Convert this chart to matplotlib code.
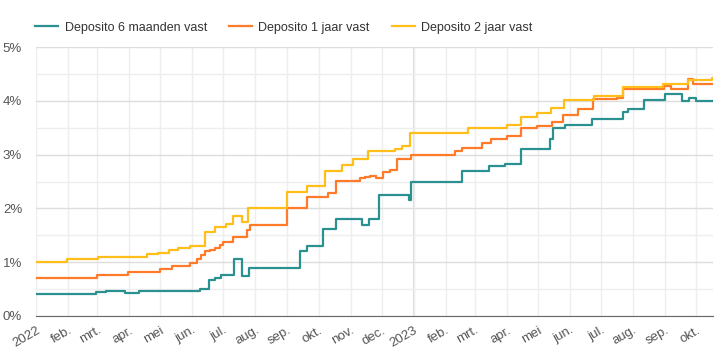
import matplotlib
matplotlib.use('Agg')
import matplotlib.pyplot as plt
import numpy as np
import pandas as pd

plt.rcParams['font.family'] = ['Liberation Sans', 'DejaVu Sans']

# Deposito 6 maanden vast
dates_6m = ['2022-01-01', '2022-02-28', '2022-03-10', '2022-03-28', '2022-04-11', '2022-06-08',
            '2022-06-17', '2022-06-23', '2022-06-29', '2022-07-11', '2022-07-19', '2022-07-26',
            '2022-09-13', '2022-09-20', '2022-10-05', '2022-10-18', '2022-11-12', '2022-11-19',
            '2022-11-28', '2022-12-27', '2022-12-29', '2023-02-17', '2023-03-15', '2023-03-30',
            '2023-04-15', '2023-05-13', '2023-05-16', '2023-05-27', '2023-06-22', '2023-07-22',
            '2023-07-27', '2023-08-12', '2023-09-01', '2023-09-17', '2023-09-24', '2023-10-01',
            '2023-10-17']
rate_6m = [0.41, 0.44, 0.47, 0.43, 0.47, 0.51,
           0.66, 0.70, 0.76, 1.06, 0.75, 0.90,
           1.21, 1.31, 1.61, 1.80, 1.70, 1.80,
           2.25, 2.16, 2.50, 2.70, 2.79, 2.83,
           3.11, 3.30, 3.50, 3.55, 3.66, 3.80,
           3.85, 4.01, 4.12, 4.00, 4.05, 4.00,
           4.00]

# Deposito 1 jaar vast
dates_1j = ['2022-01-01', '2022-03-01', '2022-03-31', '2022-05-01', '2022-05-12', '2022-05-30',
            '2022-06-06', '2022-06-09', '2022-06-13', '2022-06-18', '2022-06-23', '2022-06-28',
            '2022-07-01', '2022-07-10', '2022-07-24', '2022-07-27', '2022-09-01', '2022-09-20',
            '2022-10-10', '2022-10-18', '2022-11-10', '2022-11-15', '2022-11-20', '2022-11-26',
            '2022-12-02', '2022-12-09', '2022-12-16', '2022-12-29', '2023-02-10', '2023-02-17',
            '2023-03-08', '2023-03-17', '2023-04-01', '2023-04-15', '2023-04-30', '2023-05-15',
            '2023-05-25', '2023-06-09', '2023-06-23', '2023-07-16', '2023-07-22', '2023-08-31',
            '2023-09-07', '2023-09-23', '2023-09-28', '2023-10-17']
rate_1j = [0.70, 0.76, 0.82, 0.87, 0.92, 0.98,
           1.05, 1.13, 1.20, 1.23, 1.26, 1.32,
           1.38, 1.46, 1.60, 1.69, 2.01, 2.21,
           2.29, 2.51, 2.56, 2.58, 2.60, 2.57,
           2.68, 2.71, 2.92, 3.00, 3.07, 3.12,
           3.21, 3.30, 3.35, 3.50, 3.53, 3.61,
           3.74, 3.85, 4.03, 4.06, 4.22, 4.27,
           4.22, 4.40, 4.32, 4.32]

# Deposito 2 jaar vast
dates_2j = ['2022-01-01', '2022-01-31', '2022-03-02', '2022-04-18', '2022-04-29', '2022-05-10',
            '2022-05-18', '2022-05-30', '2022-06-13', '2022-06-23', '2022-07-04', '2022-07-10',
            '2022-07-19', '2022-07-25', '2022-09-01', '2022-09-20', '2022-10-07', '2022-10-24',
            '2022-11-03', '2022-11-18', '2022-12-14', '2022-12-21', '2022-12-28', '2023-02-22',
            '2023-04-01', '2023-04-15', '2023-04-30', '2023-05-14', '2023-05-26', '2023-06-24',
            '2023-07-22', '2023-08-30', '2023-09-23', '2023-10-16', '2023-10-17']
rate_2j = [1.01, 1.06, 1.10, 1.15, 1.18, 1.23,
           1.26, 1.30, 1.57, 1.65, 1.71, 1.86,
           1.75, 2.00, 2.31, 2.41, 2.70, 2.81,
           2.91, 3.07, 3.10, 3.16, 3.40, 3.50,
           3.56, 3.70, 3.77, 3.86, 4.01, 4.09,
           4.25, 4.31, 4.38, 4.43, 4.43]

tick_dates = pd.date_range('2022-01-01', '2023-10-01', freq='MS')
month_names = ['', 'feb.', 'mrt.', 'apr.', 'mei', 'jun.', 'jul.', 'aug.', 'sep.', 'okt.', 'nov.', 'dec.']
tick_labels = [str(d.year) if d.month == 1 else month_names[d.month - 1] for d in tick_dates]

series = [
    ('Deposito 6 maanden vast', dates_6m, rate_6m, '#2A9090'),
    ('Deposito 1 jaar vast', dates_1j, rate_1j, '#FF7B29'),
    ('Deposito 2 jaar vast', dates_2j, rate_2j, '#FFBE1A'),
]

fig = plt.figure(figsize=(7.2, 3.57), dpi=100)
ax = fig.add_axes([0.05, 0.115, 0.94, 0.753])

for name, d, r, c in series:
    ax.step(pd.to_datetime(d), r, where='post', color=c, lw=1.6, label=name, zorder=3)

ax.set_xlim(pd.Timestamp('2022-01-01'), pd.Timestamp('2023-10-17'))
ax.set_ylim(0, 5)

ax.set_yticks(np.arange(0, 6))
ax.set_yticklabels([f'{v}%' for v in range(6)])
ax.set_yticks(np.arange(0.5, 5, 1), minor=True)
ax.set_xticks(tick_dates)
ax.set_xticklabels(tick_labels, rotation=30, ha='right', rotation_mode='anchor')

ax.grid(True, which='major', axis='y', color='#DDDDDD', lw=1)
ax.grid(True, which='minor', axis='y', color='#EEEEEE', lw=1)
ax.grid(True, which='major', axis='x', color='#EEEEEE', lw=1)
ax.axvline(pd.Timestamp('2023-01-01'), color='#DDDDDD', lw=1.5, zorder=1)

for s in ['top', 'right', 'left']:
    ax.spines[s].set_visible(False)
ax.spines['bottom'].set_color('#666666')
ax.tick_params(length=0, colors='#555555', labelsize=9.5)
ax.tick_params(axis='x', pad=6)
ax.tick_params(axis='y', pad=10)
ax.tick_params(which='minor', length=0)

leg = fig.legend(loc='center left', bbox_to_anchor=(0.049, 0.922), ncol=3, frameon=False,
                 fontsize=9, handlelength=1.85, columnspacing=1.75, handletextpad=0.5,
                 borderaxespad=0, borderpad=0)
for t in leg.get_texts():
    t.set_color('#333333')

fig.savefig('out.png', dpi=100)
